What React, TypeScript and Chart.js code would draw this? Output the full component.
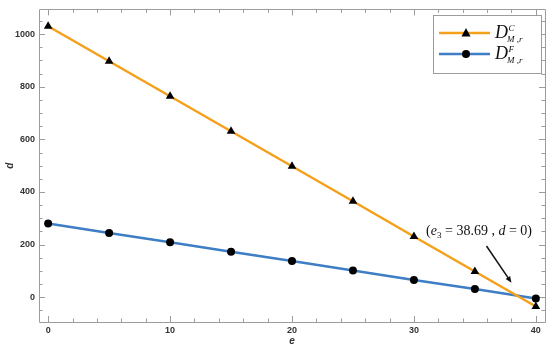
import React, { useEffect, useRef } from "react";
import { Chart, registerables } from "chart.js";

Chart.register(...registerables);

const eValues = [0, 5, 10, 15, 20, 25, 30, 35, 40];
const dC = [1030, 897, 764, 631, 498, 365, 231, 98, -35];
const dF = [280, 244, 209, 173, 138, 102, 66, 31, -5];
const xTickValues = [0, 10, 20, 30, 40];
const yTickValues = [0, 200, 400, 600, 800, 1000];
const annotationText = { x: 31.0, y: 238 };
const arrowStart = { x: 35.95, y: 195 };
const arrowEnd = { x: 38.0, y: 55 };

const ORANGE = "#F5A01A";
const BLUE = "#3D7EC4";
const FRAME = "#9c9c9c";

const framePlugin = {
  id: "frameTicks",
  beforeDatasetsDraw(chart: any) {
    const { ctx, chartArea, scales } = chart;
    const { left, right, top, bottom } = chartArea;
    const xs = scales.x;
    const ys = scales.y;
    ctx.save();
    ctx.strokeStyle = FRAME;
    ctx.lineWidth = 1;
    ctx.beginPath();
    ctx.rect(Math.round(left) + 0.5, Math.round(top) + 0.5, Math.round(right - left), Math.round(bottom - top));
    ctx.stroke();
    ctx.beginPath();
    for (let v = 0; v <= 40; v += 2) {
      const px = Math.round(xs.getPixelForValue(v)) + 0.5;
      const len = v % 10 === 0 ? 6 : 3.5;
      ctx.moveTo(px, bottom);
      ctx.lineTo(px, bottom - len);
      ctx.moveTo(px, top);
      ctx.lineTo(px, top + len);
    }
    for (let v = -50; v <= 1050; v += 50) {
      const py = Math.round(ys.getPixelForValue(v)) + 0.5;
      const len = v % 200 === 0 ? 6 : 3.5;
      ctx.moveTo(left, py);
      ctx.lineTo(left + len, py);
      ctx.moveTo(right, py);
      ctx.lineTo(right - len, py);
    }
    ctx.stroke();
    ctx.restore();
  },
};

function drawDLabel(ctx: any, x: number, baseline: number, sup: string, sub: string) {
  ctx.fillStyle = "#111";
  ctx.textAlign = "left";
  ctx.textBaseline = "alphabetic";
  ctx.font = "italic 18px 'Liberation Serif'";
  ctx.fillText("D", x, baseline);
  const w = ctx.measureText("D").width;
  ctx.font = "italic 9px 'Liberation Serif'";
  ctx.fillText(sup, x + w + 0.5, baseline - 7);
  ctx.fillText(sub, x + w - 1, baseline + 4);
}

const overlayPlugin = {
  id: "overlay",
  afterDraw(chart: any) {
    const { ctx, scales } = chart;
    const xs = scales.x;
    const ys = scales.y;
    ctx.save();
    // annotation text
    const tx = xs.getPixelForValue(annotationText.x);
    const ty = ys.getPixelForValue(annotationText.y);
    ctx.fillStyle = "#111";
    ctx.textBaseline = "alphabetic";
    ctx.textAlign = "left";
    let cx = tx;
    const seg = (t: string, font: string, dy = 0) => {
      ctx.font = font;
      ctx.fillText(t, cx, ty + dy);
      cx += ctx.measureText(t).width;
    };
    seg("(", "14px 'Liberation Serif'");
    seg("e", "italic 14px 'Liberation Serif'");
    seg("3", "9px 'Liberation Serif'", 3);
    seg(" = 38.69 , ", "14px 'Liberation Serif'");
    seg("d", "italic 14px 'Liberation Serif'");
    seg(" = 0)", "14px 'Liberation Serif'");
    // arrow
    const x1 = xs.getPixelForValue(arrowStart.x);
    const y1 = ys.getPixelForValue(arrowStart.y);
    const x2 = xs.getPixelForValue(arrowEnd.x);
    const y2 = ys.getPixelForValue(arrowEnd.y);
    const ang = Math.atan2(y2 - y1, x2 - x1);
    const hl = 7;
    ctx.strokeStyle = "#111";
    ctx.lineWidth = 1.5;
    ctx.beginPath();
    ctx.moveTo(x1, y1);
    ctx.lineTo(x2 - Math.cos(ang) * hl * 0.8, y2 - Math.sin(ang) * hl * 0.8);
    ctx.stroke();
    ctx.beginPath();
    ctx.moveTo(x2, y2);
    ctx.lineTo(x2 - hl * Math.cos(ang - 0.4), y2 - hl * Math.sin(ang - 0.4));
    ctx.lineTo(x2 - hl * Math.cos(ang + 0.4), y2 - hl * Math.sin(ang + 0.4));
    ctx.closePath();
    ctx.fill();
    // legend
    const lx = 433, ly = 15, lw = 108, lh = 58;
    ctx.fillStyle = "#fff";
    ctx.fillRect(lx, ly, lw, lh);
    ctx.strokeStyle = FRAME;
    ctx.lineWidth = 1;
    ctx.strokeRect(lx + 0.5, ly + 0.5, lw, lh);
    const rows = [
      { color: ORANGE, y: 33, marker: "tri", sup: "C" },
      { color: BLUE, y: 54, marker: "circ", sup: "F" },
    ];
    for (const r of rows) {
      ctx.strokeStyle = r.color;
      ctx.lineWidth = 2.5;
      ctx.beginPath();
      ctx.moveTo(439, r.y);
      ctx.lineTo(490, r.y);
      ctx.stroke();
      ctx.fillStyle = "#000";
      ctx.beginPath();
      if (r.marker === "tri") {
        ctx.moveTo(466, r.y - 5);
        ctx.lineTo(470.5, r.y + 3.5);
        ctx.lineTo(461.5, r.y + 3.5);
        ctx.closePath();
      } else {
        ctx.arc(466, r.y, 4, 0, Math.PI * 2);
      }
      ctx.fill();
      drawDLabel(ctx, 495, r.y + 5, r.sup, "M ,r");
    }
    ctx.restore();
  },
};

export default function App() {
  const ref = useRef<HTMLCanvasElement | null>(null);
  useEffect(() => {
    if (!ref.current) return;
    const tickFont = { family: "'Liberation Sans', Arial, sans-serif", size: 9, weight: "bold" as const };
    const chart = new Chart(ref.current, {
      type: "line",
      data: {
        datasets: [
          {
            label: "DC",
            data: eValues.map((e, i) => ({ x: e, y: dC[i] })),
            borderColor: ORANGE,
            backgroundColor: "#000",
            borderWidth: 2.5,
            pointStyle: "triangle",
            pointRadius: 5,
            pointBackgroundColor: "#000",
            pointBorderColor: "#000",
            pointBorderWidth: 0,
            tension: 0,
          },
          {
            label: "DF",
            data: eValues.map((e, i) => ({ x: e, y: dF[i] })),
            borderColor: BLUE,
            backgroundColor: "#000",
            borderWidth: 2.5,
            pointStyle: "circle",
            pointRadius: 4,
            pointBackgroundColor: "#000",
            pointBorderColor: "#000",
            pointBorderWidth: 0,
            tension: 0,
          },
        ],
      },
      options: {
        animation: false,
        responsive: false,
        devicePixelRatio: 1,
        layout: { padding: { top: 6, right: 3, left: 0, bottom: 0 } },
        plugins: { legend: { display: false }, tooltip: { enabled: false } },
        scales: {
          x: {
            type: "linear",
            min: -0.75,
            max: 40.75,
            grid: { display: false, drawTicks: false },
            border: { display: false },
            afterBuildTicks: (s: any) => {
              s.ticks = xTickValues.map((v) => ({ value: v }));
            },
            afterFit: (s: any) => {
              s.height = 27;
            },
            ticks: { font: tickFont, color: "#333", padding: 3, maxRotation: 0, autoSkip: false, callback: (v: any) => String(v) },
            title: {
              display: true,
              text: "e",
              color: "#333",
              font: { family: "'Liberation Sans', Arial, sans-serif", size: 10, style: "italic", weight: "bold" },
              padding: { top: 0, bottom: 2 },
            },
          },
          y: {
            type: "linear",
            min: -94,
            max: 1094,
            grid: { display: false, drawTicks: false },
            border: { display: false },
            afterBuildTicks: (s: any) => {
              s.ticks = yTickValues.map((v) => ({ value: v }));
            },
            afterFit: (s: any) => {
              s.width = 39;
            },
            ticks: { font: tickFont, color: "#333", padding: 4, autoSkip: false, callback: (v: any) => String(v) },
            title: {
              display: true,
              text: "d",
              color: "#333",
              font: { family: "'Liberation Sans', Arial, sans-serif", size: 10, style: "italic", weight: "bold" },
              padding: { top: 4, bottom: 0 },
            },
          },
        },
      },
      plugins: [framePlugin, overlayPlugin],
    });
    return () => chart.destroy();
  }, []);
  return (
    <div style={{ position: "absolute", left: 0, top: 0, width: 550, height: 349, background: "#fff" }}>
      <canvas ref={ref} width={550} height={349} style={{ display: "block" }} />
    </div>
  );
}
